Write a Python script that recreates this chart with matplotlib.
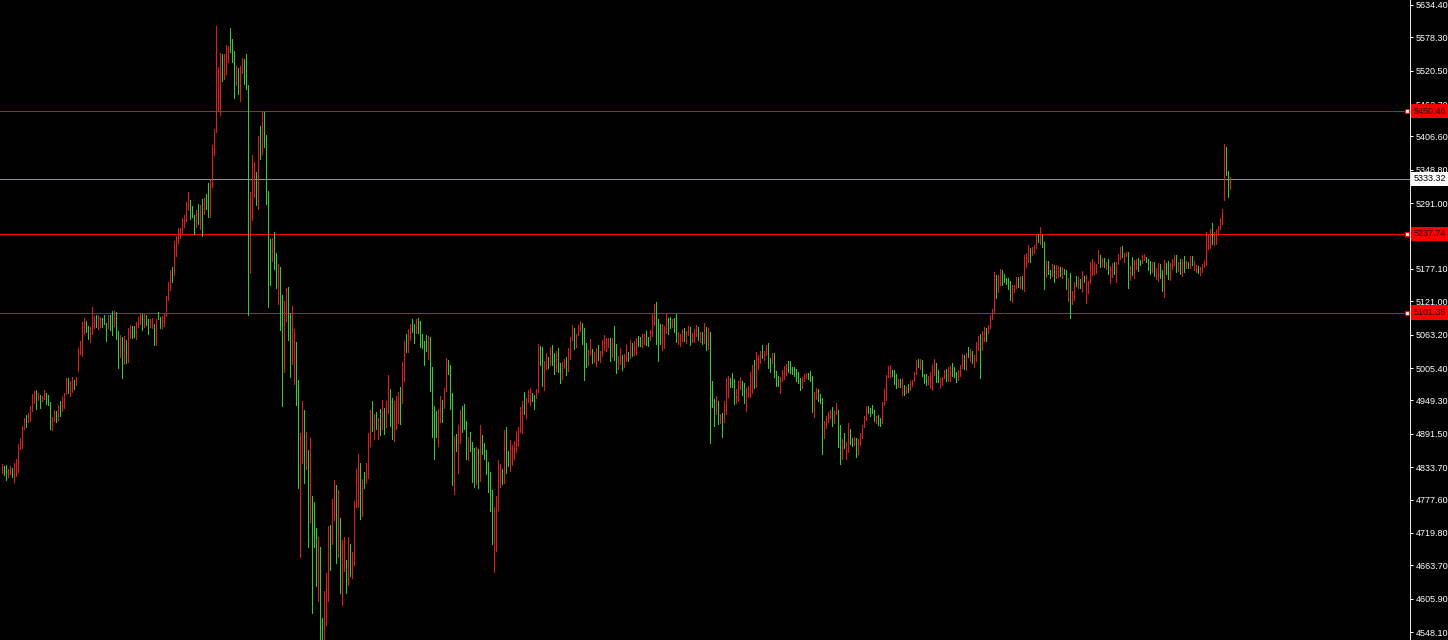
import matplotlib
matplotlib.use("Agg")
import matplotlib.pyplot as plt
from matplotlib.transforms import blended_transform_factory

plt.rcParams['font.family'] = ['Liberation Sans', 'DejaVu Sans']

# ---- data: bar highs / lows (price) and bar direction (U = up bar, D = down bar)
highs = [
    # 1-85
    4839, 4836, 4837, 4831, 4836, 4832, 4841, 4848, 4874, 4884,
    4905, 4919, 4924, 4927, 4940, 4960, 4966, 4967, 4962, 4959,
    4957, 4967, 4962, 4959, 4947, 4920, 4933, 4931, 4941, 4948,
    4955, 4962, 4988, 4988, 4983, 4990, 4985, 4990, 5040, 5052,
    5085, 5092, 5087, 5078, 5076, 5111, 5096, 5097, 5097, 5094,
    5092, 5097, 5083, 5097, 5097, 5104, 5104, 5102, 5070, 5063,
    5059, 5061, 5054, 5074, 5080, 5078, 5078, 5085, 5094, 5099,
    5099, 5099, 5097, 5090, 5090, 5092, 5081, 5090, 5102, 5094,
    5096, 5099, 5130, 5154, 5175,
    # 86-140
    5180, 5226, 5234, 5248, 5248, 5265, 5271, 5293, 5310, 5297,
    5286, 5271, 5279, 5290, 5288, 5298, 5300, 5307, 5326, 5331,
    5392, 5420, 5598, 5527, 5551, 5550, 5550, 5565, 5563, 5595,
    5576, 5555, 5529, 5525, 5529, 5543, 5541, 5550, 5496, 5310,
    5375, 5362, 5345, 5407, 5425, 5451, 5449, 5409, 5312, 5229,
    5231, 5241, 5205, 5186, 5180,
    # 141-200
    5132, 5122, 5144, 5146, 5101, 5113, 5073, 5050, 4985, 4893,
    4948, 4933, 4895, 4863, 4884, 4784, 4773, 4728, 4713, 4695,
    4572, 4619, 4650, 4732, 4734, 4779, 4812, 4803, 4794, 4746,
    4708, 4713, 4673, 4713, 4701, 4687, 4775, 4831, 4856, 4841,
    4813, 4825, 4841, 4893, 4933, 4948, 4926, 4929, 4919, 4935,
    4950, 4936, 4948, 4993, 4969, 4953, 4948, 4957, 4964, 4972,
    # 201-280
    5016, 5052, 5064, 5073, 5081, 5090, 5081, 5090, 5092, 5087,
    5064, 5052, 5063, 5061, 5059, 5007, 4940, 4931, 4935, 4957,
    4950, 4971, 5023, 5019, 5011, 4962, 4888, 4891, 4907, 4933,
    4940, 4943, 4914, 4886, 4895, 4877, 4867, 4869, 4865, 4907,
    4889, 4876, 4863, 4843, 4825, 4794, 4765, 4784, 4846, 4839,
    4831, 4898, 4903, 4862, 4881, 4872, 4879, 4896, 4903, 4938,
    4948, 4964, 4953, 4967, 4971, 4962, 4959, 4969, 5047, 5044,
    5042, 5017, 5031, 5024, 5042, 5045, 5031, 5035, 5040, 5014,
    # 281-360
    5016, 5021, 5024, 5040, 5059, 5080, 5074, 5064, 5080, 5087,
    5083, 5074, 5049, 5037, 5056, 5038, 5033, 5040, 5045, 5035,
    5054, 5063, 5057, 5057, 5057, 5057, 5078, 5047, 5026, 5040,
    5028, 5030, 5045, 5033, 5054, 5049, 5052, 5057, 5061, 5059,
    5064, 5064, 5070, 5059, 5071, 5099, 5116, 5120, 5090, 5081,
    5081, 5078, 5099, 5092, 5094, 5090, 5092, 5099, 5068, 5064,
    5073, 5074, 5069, 5078, 5076, 5066, 5073, 5080, 5076, 5068,
    5068, 5083, 5076, 5074, 5068, 4983, 4952, 4957, 4948, 4926,
    # 361-450
    4927, 4948, 4988, 4991, 4988, 4997, 4986, 4969, 4983, 4990,
    4983, 4979, 4971, 4974, 4999, 5011, 5019, 5033, 5028, 5035,
    5045, 5035, 5045, 5049, 5023, 5031, 5031, 5000, 4991, 4990,
    5002, 5009, 5012, 5017, 5017, 5007, 5007, 5004, 4999, 4988,
    4990, 4995, 4997, 4997, 5000, 4992, 4964, 4971, 4969, 4960,
    4953, 4914, 4922, 4929, 4933, 4938, 4931, 4945, 4933, 4907,
    4882, 4893, 4877, 4910, 4900, 4884, 4886, 4884, 4882, 4893,
    4907, 4922, 4940, 4940, 4936, 4941, 4933, 4922, 4924, 4919,
    4947, 4969, 4993, 5009, 5011, 5002, 5002, 4995, 4986, 4986,
    # 451-530
    4988, 4976, 4974, 4978, 4983, 4985, 4999, 5019, 5021, 5021,
    5019, 4995, 4995, 4992, 4999, 5011, 5021, 5014, 5002, 4988,
    4990, 5002, 5004, 5007, 5009, 5014, 5007, 4999, 5002, 5011,
    5030, 5028, 5031, 5042, 5038, 5035, 5028, 5050, 5061, 5064,
    5069, 5076, 5074, 5080, 5097, 5108, 5172, 5167, 5167, 5177,
    5175, 5168, 5161, 5161, 5156, 5149, 5149, 5163, 5163, 5165,
    5165, 5201, 5205, 5218, 5213, 5215, 5218, 5236, 5238, 5250,
    5236, 5224, 5191, 5191, 5175, 5186, 5184, 5184, 5182, 5180,
    # 531-580
    5180, 5177, 5175, 5161, 5170, 5139, 5155, 5165, 5163, 5160,
    5174, 5165, 5167, 5156, 5189, 5194, 5189, 5186, 5210, 5201,
    5196, 5196, 5189, 5194, 5182, 5187, 5189, 5189, 5203, 5215,
    5217, 5205, 5206, 5206, 5182, 5198, 5192, 5194, 5196, 5192,
    5201, 5203, 5198, 5194, 5191, 5189, 5189, 5179, 5187, 5186,
    # 581-615
    5175, 5193, 5187, 5191, 5187, 5194, 5201, 5201, 5189, 5194,
    5194, 5200, 5191, 5189, 5200, 5200, 5191, 5184, 5182, 5180,
    5186, 5191, 5241, 5238, 5246, 5257, 5241, 5246, 5251, 5265,
    5281, 5394, 5388, 5347, 5336,
]

lows = [
    # 1-85
    4824, 4820, 4811, 4817, 4822, 4817, 4808, 4818, 4825, 4865,
    4867, 4900, 4903, 4912, 4914, 4931, 4945, 4935, 4950, 4936,
    4948, 4952, 4943, 4941, 4900, 4898, 4914, 4912, 4915, 4922,
    4931, 4936, 4960, 4962, 4957, 4964, 4969, 4976, 5000, 5030,
    5026, 5064, 5068, 5056, 5051, 5064, 5074, 5076, 5073, 5076,
    5076, 5081, 5052, 5074, 5071, 5063, 5078, 5056, 5005, 5024,
    4988, 5012, 5014, 5016, 5057, 5057, 5059, 5056, 5076, 5081,
    5071, 5076, 5080, 5064, 5076, 5074, 5045, 5045, 5090, 5074,
    5074, 5078, 5096, 5123, 5141,
    # 86-140
    5155, 5167, 5200, 5222, 5231, 5239, 5250, 5260, 5279, 5264,
    5267, 5238, 5250, 5255, 5246, 5234, 5272, 5281, 5267, 5267,
    5319, 5375, 5414, 5451, 5444, 5503, 5506, 5515, 5536, 5553,
    5536, 5473, 5496, 5480, 5468, 5517, 5498, 5489, 5097, 5170,
    5262, 5302, 5288, 5281, 5368, 5376, 5388, 5290, 5111, 5149,
    5191, 5177, 5144, 5116, 5071,
    # 141-200
    4940, 4999, 5087, 5054, 4990, 5012, 4978, 4941, 4798, 4678,
    4841, 4806, 4831, 4695, 4739, 4581, 4695, 4628, 4602, 4525,
    4528, 4530, 4560, 4602, 4656, 4701, 4742, 4668, 4678, 4616,
    4595, 4654, 4616, 4629, 4645, 4642, 4664, 4765, 4765, 4744,
    4749, 4798, 4806, 4815, 4870, 4896, 4882, 4900, 4882, 4889,
    4900, 4891, 4903, 4927, 4905, 4882, 4879, 4900, 4910, 4908,
    # 201-280
    4945, 4983, 5033, 5033, 5054, 5068, 5049, 5066, 5066, 5042,
    5040, 5011, 5035, 5021, 4966, 4886, 4848, 4886, 4870, 4912,
    4912, 4936, 4966, 4995, 4935, 4803, 4787, 4862, 4824, 4876,
    4895, 4900, 4848, 4846, 4862, 4808, 4799, 4804, 4798, 4810,
    4856, 4848, 4822, 4791, 4758, 4701, 4652, 4688, 4760, 4799,
    4804, 4806, 4824, 4836, 4827, 4837, 4848, 4860, 4870, 4895,
    4893, 4926, 4919, 4947, 4941, 4948, 4935, 4953, 4964, 5011,
    4974, 4967, 5004, 5005, 5011, 5011, 4995, 5000, 4999, 4979,
    # 281-360
    4986, 5005, 4993, 5000, 5021, 5054, 5038, 5042, 5063, 5070,
    5047, 4985, 5007, 5011, 5030, 5014, 5016, 5009, 5019, 5016,
    5026, 5037, 5035, 5042, 5017, 5024, 5019, 4997, 5004, 5012,
    5002, 5007, 5017, 5017, 5023, 5026, 5028, 5030, 5044, 5044,
    5042, 5047, 5045, 5044, 5054, 5061, 5080, 5047, 5017, 5047,
    5037, 5040, 5066, 5064, 5074, 5076, 5068, 5050, 5047, 5044,
    5052, 5052, 5049, 5063, 5045, 5050, 5050, 5061, 5054, 5050,
    5047, 5049, 5037, 5038, 4876, 4938, 4905, 4926, 4908, 4910,
    # 361-450
    4886, 4912, 4926, 4955, 4973, 4973, 4943, 4945, 4948, 4969,
    4959, 4945, 4931, 4955, 4955, 4962, 4971, 4973, 5004, 5014,
    5023, 5019, 5028, 5005, 4999, 5014, 4990, 4974, 4974, 4962,
    4983, 4986, 4993, 4999, 4997, 4995, 4992, 4983, 4979, 4967,
    4971, 4983, 4988, 4986, 4983, 4929, 4921, 4952, 4948, 4945,
    4856, 4884, 4901, 4912, 4919, 4905, 4910, 4926, 4869, 4839,
    4848, 4867, 4848, 4860, 4874, 4870, 4872, 4851, 4856, 4872,
    4884, 4903, 4915, 4927, 4922, 4927, 4914, 4910, 4907, 4905,
    4910, 4941, 4950, 4990, 4990, 4992, 4978, 4971, 4973, 4973,
    # 451-530
    4959, 4959, 4962, 4964, 4967, 4974, 4983, 4995, 5007, 5004,
    4992, 4979, 4976, 4978, 4971, 4967, 4993, 4981, 4981, 4973,
    4976, 4988, 4983, 4983, 4983, 4992, 4990, 4981, 4985, 4992,
    5005, 5004, 5002, 5024, 5017, 5014, 5007, 5017, 5037, 4988,
    5037, 5052, 5052, 5066, 5074, 5090, 5101, 5127, 5137, 5149,
    5149, 5155, 5151, 5142, 5123, 5120, 5137, 5144, 5146, 5144,
    5142, 5139, 5180, 5189, 5189, 5201, 5205, 5213, 5224, 5220,
    5215, 5142, 5163, 5168, 5161, 5165, 5155, 5161, 5163, 5165,
    # 531-580
    5161, 5168, 5142, 5122, 5092, 5116, 5123, 5148, 5144, 5144,
    5137, 5155, 5118, 5135, 5153, 5167, 5168, 5170, 5187, 5180,
    5182, 5180, 5177, 5168, 5153, 5163, 5168, 5155, 5186, 5194,
    5198, 5189, 5199, 5144, 5158, 5167, 5161, 5177, 5174, 5184,
    5187, 5192, 5189, 5175, 5168, 5172, 5165, 5160, 5156, 5161,
    # 581-615
    5139, 5128, 5168, 5160, 5158, 5177, 5184, 5172, 5174, 5168,
    5165, 5172, 5179, 5179, 5179, 5184, 5175, 5172, 5170, 5167,
    5172, 5180, 5184, 5212, 5213, 5220, 5218, 5220, 5236, 5246,
    5255, 5297, 5340, 5302, 5316,
]

bar_dir = (
    "UDDUUDUUUU" "UUDUUUUDUD" "UUDDDUUDUD" "UUUDUUDUUU" "UUDDUUUDUU"
    "DDDUDDUDDU" "DUDUUDDUUU" "DUDDUUDUDD" "UUUUU"
    "DUUUUUUUUD" "DDUDUDUDDU" "UUUUUDUUUD" "DDUDUUDDDU" "UUDUDUDDDD" "UDDUD"
    "DUUDDUUDDU" "UDUDUDDDUD" "DUUUDUUDUD" "UUDUDUUUUD" "UDUUUDUDUD" "UDUUDDUUUD"
    "UUDUUDDUDD" "DDDUDDDDUU" "DUUDDDUDUU" "DDDUDDDUDU" "DDDDDDUUUU"
    "DUDDUUUUUU" "UDUUUDDUUD" "DUUDUDDUDD"
    "UUDUUUDUUU" "DDDUUDUUDU" "UUUUDUDDUU" "DUUDUDUUDD" "UUDDUUUDDD"
    "UUUDDUDDUU" "UDUUDUUUDU" "DUDUDDDUDU"
    "DUUUDDDUUU" "DDUUUUDUUU" "DUUDDUDDDU" "UUUDDDDDDD" "UUUDDDUUDD"
    "DUUUUDUUDD" "UDUUDDUDUU" "UUUDDDDUDD" "UUUUUDDDUD"
    "UDUDUUUUDU" "DDDUUUUDDU" "UUDUUDDDUU" "UDUDUDUUUD" "UUDUUUUDUU"
    "DDDDDUUUDU" "DUUUDUUUDU" "DDUDDUDUUD"
    "UDDUDUUDUD" "UDUUUUUUUD" "UDUDUUDUUU" "DUUDUDUUDD" "UUDDDUDUUD"
    "DUDDUUUDUD" "UDUDUDUUDU" "UUUUUDUUUU" "UUDDU"
)

ytick_values = [5634.40, 5578.30, 5520.50, 5462.70, 5406.60, 5348.80, 5291.00,
                5234.90, 5177.10, 5121.00, 5063.20, 5005.40, 4949.30, 4891.50,
                4833.70, 4777.60, 4719.80, 4663.70, 4605.90, 4548.10]
red_levels = [5450.46, 5237.74, 5101.35]
current_price = 5333.32

# ---- figure
W, H = 1448, 640
fig = plt.figure(figsize=(W / 100, H / 100), dpi=100, facecolor='black')
ax = fig.add_axes([0, 0, 1410 / W, 1])
ax.set_facecolor('black')

n = min(len(highs), len(lows), len(bar_dir))
xs = list(range(n))
up_color, down_color = '#e01c1c', '#32cd32'
cols = [up_color if d == 'U' else down_color for d in bar_dir[:n]]
ax.vlines(xs, lows[:n], highs[:n], colors=cols, linewidth=0.72, antialiased=False, zorder=3)

ax.set_xlim(-0.75, 704.25)
ax.set_ylim(4534.26, 5643.06)

# level lines (1 px)
for v in red_levels:
    ax.axhline(v, color='#ff0000', linewidth=0.7, antialiased=False, zorder=2)
ax.axhline(current_price, color='#8a939c', linewidth=0.7, antialiased=False, zorder=2)

# square markers at line ends
for v in red_levels:
    ax.plot([702.6], [v], marker='s', markersize=3.4, mfc='white', mec='#ff0000',
            mew=0.8, clip_on=False, zorder=5)

# axes styling
for s in ['top', 'left', 'bottom']:
    ax.spines[s].set_visible(False)
ax.spines['right'].set_color('#e6e6e6')
ax.spines['right'].set_linewidth(0.72)
ax.set_xticks([])
ax.yaxis.tick_right()
ax.set_yticks(ytick_values)
ax.set_yticklabels([f"{v:.2f}" for v in ytick_values])
ax.tick_params(axis='y', colors='white', length=2.5, width=0.72, pad=1.5,
               labelsize=6.5, direction='out')

# price labels on the right axis
trans = blended_transform_factory(ax.transAxes, ax.transData)
for v in red_levels:
    ax.annotate(f"{v:.2f}", xy=(1, v), xycoords=trans, xytext=(4, 0),
                textcoords='offset pixels', ha='left', va='center', fontsize=6.5,
                color='#1a0000', annotation_clip=False, zorder=6,
                bbox=dict(boxstyle='square,pad=0.3', fc='#ff0000', ec='none'))
ax.annotate(f"{current_price:.2f}", xy=(1, current_price), xycoords=trans, xytext=(4, 0),
            textcoords='offset pixels', ha='left', va='center', fontsize=6.5,
            color='black', annotation_clip=False, zorder=6,
            bbox=dict(boxstyle='square,pad=0.3', fc='white', ec='none'))

fig.savefig('out.png', dpi=100, facecolor='black')
